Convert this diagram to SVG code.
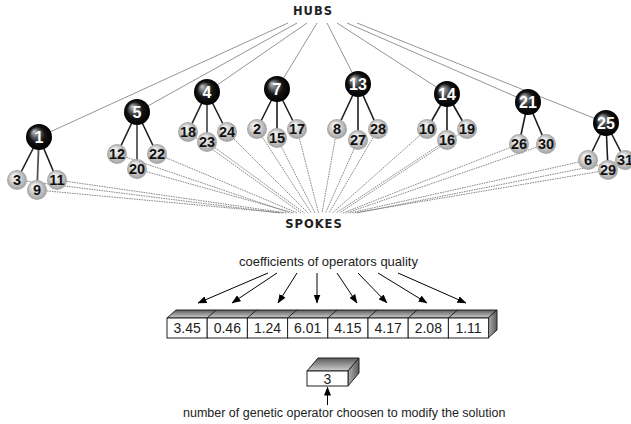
<svg xmlns="http://www.w3.org/2000/svg" width="631" height="424" viewBox="0 0 631 424">
<defs>
<radialGradient id="hubG" cx="50%" cy="50%" r="50%" fx="30%" fy="28%">
<stop offset="0" stop-color="#c8c8c8"/>
<stop offset="0.25" stop-color="#7a7a7a"/>
<stop offset="0.6" stop-color="#151515"/>
<stop offset="1" stop-color="#000"/>
</radialGradient>
<radialGradient id="spkG" cx="50%" cy="50%" r="50%" fx="35%" fy="28%">
<stop offset="0" stop-color="#ffffff"/>
<stop offset="0.5" stop-color="#d6d6d6"/>
<stop offset="1" stop-color="#a0a0a0"/>
</radialGradient>
<linearGradient id="topG" x1="0" y1="0" x2="0" y2="1">
<stop offset="0" stop-color="#5a5a5a"/>
<stop offset="1" stop-color="#d0d0d0"/>
</linearGradient>
<linearGradient id="sideG" x1="0" y1="0" x2="1" y2="0">
<stop offset="0" stop-color="#b0b0b0"/>
<stop offset="1" stop-color="#5a5a5a"/>
</linearGradient>
<marker id="arr" markerWidth="9" markerHeight="7" refX="8.5" refY="3.5" orient="auto" markerUnits="userSpaceOnUse">
<path d="M0,0 L9,3.5 L0,7 Z" fill="#000"/>
</marker>
<style>
.hl{stroke:#7a7a7a;stroke-width:0.8;fill:none}
.sl{stroke:#6a6a6a;stroke-width:0.8;stroke-dasharray:1.6 0.9;fill:none}
.tl{stroke:#1e1e1e;stroke-width:1.6;fill:none}
.tm{stroke:#555;stroke-width:1.8;fill:none}
.hub circle{fill:url(#hubG)}
.spk circle{fill:url(#spkG)}
.hub text{font-family:"Liberation Sans",Arial,sans-serif;font-weight:bold;font-size:16px;fill:#fff;text-anchor:middle}
.spk text{font-family:"Liberation Sans",Arial,sans-serif;font-weight:bold;font-size:14.5px;fill:#111;text-anchor:middle}
.title{font-family:"DejaVu Sans",sans-serif;font-weight:bold;font-size:11.5px;letter-spacing:1px;fill:#222;text-anchor:middle}
.lbl{font-family:"Liberation Sans",Arial,sans-serif;font-size:13px;fill:#222}
.num{font-family:"Liberation Sans",Arial,sans-serif;font-size:14px;fill:#222;text-anchor:middle}
.front{fill:#fff;stroke:#222;stroke-width:1}
.top{fill:url(#topG);stroke:#222;stroke-width:1;stroke-linejoin:round}
.side{fill:url(#sideG);stroke:#222;stroke-width:1;stroke-linejoin:round}
.ar{stroke:#000;stroke-width:1;fill:none;marker-end:url(#arr)}
</style>
</defs>
<rect width="631" height="424" fill="#fff"/>

<text class="title" x="313" y="15">HUBS</text>
<text class="title" x="314" y="228">SPOKES</text>

<g id="connectors">
<line class="hl" x1="288" y1="23" x2="39" y2="137"/>
<line class="hl" x1="297" y1="23" x2="137" y2="112"/>
<line class="hl" x1="307" y1="23" x2="207" y2="92"/>
<line class="hl" x1="317" y1="23" x2="277" y2="89"/>
<line class="hl" x1="327" y1="23" x2="358" y2="84"/>
<line class="hl" x1="337" y1="23" x2="447" y2="94"/>
<line class="hl" x1="347" y1="23" x2="528" y2="102"/>
<line class="hl" x1="357" y1="23" x2="606" y2="123"/>
<line class="sl" x1="17" y1="180" x2="280" y2="213"/>
<line class="sl" x1="37" y1="190" x2="283.5" y2="213"/>
<line class="sl" x1="57" y1="180" x2="287" y2="213"/>
<line class="sl" x1="117" y1="154" x2="290.5" y2="213"/>
<line class="sl" x1="137" y1="169" x2="294" y2="213"/>
<line class="sl" x1="157" y1="154" x2="297.5" y2="213"/>
<line class="sl" x1="188" y1="132" x2="301" y2="213"/>
<line class="sl" x1="207" y1="142" x2="304.5" y2="213"/>
<line class="sl" x1="227" y1="132" x2="308" y2="213"/>
<line class="sl" x1="257" y1="129" x2="311.5" y2="213"/>
<line class="sl" x1="277" y1="138" x2="315" y2="213"/>
<line class="sl" x1="297" y1="129" x2="318.5" y2="213"/>
<line class="sl" x1="337" y1="129" x2="322" y2="213"/>
<line class="sl" x1="358" y1="140" x2="325.5" y2="213"/>
<line class="sl" x1="378" y1="129" x2="329" y2="213"/>
<line class="sl" x1="427" y1="129" x2="332.5" y2="213"/>
<line class="sl" x1="447" y1="140" x2="336" y2="213"/>
<line class="sl" x1="467" y1="129" x2="339.5" y2="213"/>
<line class="sl" x1="519" y1="144" x2="343" y2="213"/>
<line class="sl" x1="546" y1="144" x2="346.5" y2="213"/>
<line class="sl" x1="588" y1="160" x2="350" y2="213"/>
<line class="sl" x1="608" y1="170" x2="353.5" y2="213"/>
<line class="sl" x1="625" y1="160" x2="357" y2="213"/>
<line class="tl" x1="39" y1="137" x2="17" y2="180"/>
<line class="tm" x1="39" y1="137" x2="37" y2="190"/>
<line class="tl" x1="39" y1="137" x2="57" y2="180"/>
<line class="tl" x1="137" y1="112" x2="117" y2="154"/>
<line class="tm" x1="137" y1="112" x2="137" y2="169"/>
<line class="tl" x1="137" y1="112" x2="157" y2="154"/>
<line class="tl" x1="207" y1="92" x2="188" y2="132"/>
<line class="tm" x1="207" y1="92" x2="207" y2="142"/>
<line class="tl" x1="207" y1="92" x2="227" y2="132"/>
<line class="tl" x1="277" y1="89" x2="257" y2="129"/>
<line class="tl" x1="277" y1="89" x2="277" y2="138"/>
<line class="tl" x1="277" y1="89" x2="297" y2="129"/>
<line class="tl" x1="358" y1="84" x2="337" y2="129"/>
<line class="tl" x1="358" y1="84" x2="358" y2="140"/>
<line class="tl" x1="358" y1="84" x2="378" y2="129"/>
<line class="tl" x1="447" y1="94" x2="427" y2="129"/>
<line class="tl" x1="447" y1="94" x2="447" y2="140"/>
<line class="tl" x1="447" y1="94" x2="467" y2="129"/>
<line class="tl" x1="528" y1="102" x2="519" y2="144"/>
<line class="tl" x1="528" y1="102" x2="546" y2="144"/>
<line class="tl" x1="606" y1="123" x2="588" y2="160"/>
<line class="tl" x1="606" y1="123" x2="608" y2="170"/>
<line class="tl" x1="606" y1="123" x2="625" y2="160"/>
<line class="ar" x1="268" y1="273" x2="198" y2="303"/>
<line class="ar" x1="277" y1="273" x2="232" y2="303"/>
<line class="ar" x1="297" y1="273" x2="278" y2="303"/>
<line class="ar" x1="317" y1="273" x2="317" y2="303"/>
<line class="ar" x1="337" y1="273" x2="357" y2="303"/>
<line class="ar" x1="358" y1="273" x2="387" y2="303"/>
<line class="ar" x1="378" y1="273" x2="427" y2="303"/>
<line class="ar" x1="398" y1="273" x2="466" y2="303"/>
<line class="ar" x1="327.5" y1="405" x2="327.5" y2="387"/>
</g>

<g id="hub1" class="hub"><circle cx="39" cy="137" r="13"/><text x="39" y="143">1</text></g>
<g id="hub5" class="hub"><circle cx="137" cy="112" r="13"/><text x="137" y="118">5</text></g>
<g id="hub4" class="hub"><circle cx="207" cy="92" r="13"/><text x="207" y="98">4</text></g>
<g id="hub7" class="hub"><circle cx="277" cy="89" r="13"/><text x="277" y="95">7</text></g>
<g id="hub13" class="hub"><circle cx="358" cy="84" r="13"/><text x="358" y="90">13</text></g>
<g id="hub14" class="hub"><circle cx="447" cy="94" r="13"/><text x="447" y="100">14</text></g>
<g id="hub21" class="hub"><circle cx="528" cy="102" r="13"/><text x="528" y="108">21</text></g>
<g id="hub25" class="hub"><circle cx="606" cy="123" r="13"/><text x="606" y="129">25</text></g>

<g id="spoke3" class="spk"><circle cx="17" cy="180" r="10"/><text x="17" y="185">3</text></g>
<g id="spoke11" class="spk"><circle cx="57" cy="180" r="10"/><text x="57" y="185">11</text></g>
<g id="spoke9" class="spk"><circle cx="37" cy="190" r="10"/><text x="37" y="195">9</text></g>
<g id="spoke12" class="spk"><circle cx="117" cy="154" r="10"/><text x="117" y="159">12</text></g>
<g id="spoke22" class="spk"><circle cx="157" cy="154" r="10"/><text x="157" y="159">22</text></g>
<g id="spoke20" class="spk"><circle cx="137" cy="169" r="10"/><text x="137" y="174">20</text></g>
<g id="spoke18" class="spk"><circle cx="188" cy="132" r="10"/><text x="188" y="137">18</text></g>
<g id="spoke24" class="spk"><circle cx="227" cy="132" r="10"/><text x="227" y="137">24</text></g>
<g id="spoke23" class="spk"><circle cx="207" cy="142" r="10"/><text x="207" y="147">23</text></g>
<g id="spoke2" class="spk"><circle cx="257" cy="129" r="10"/><text x="257" y="134">2</text></g>
<g id="spoke17" class="spk"><circle cx="297" cy="129" r="10"/><text x="297" y="134">17</text></g>
<g id="spoke15" class="spk"><circle cx="277" cy="138" r="10"/><text x="277" y="143">15</text></g>
<g id="spoke8" class="spk"><circle cx="337" cy="129" r="10"/><text x="337" y="134">8</text></g>
<g id="spoke28" class="spk"><circle cx="378" cy="129" r="10"/><text x="378" y="134">28</text></g>
<g id="spoke27" class="spk"><circle cx="358" cy="140" r="10"/><text x="358" y="145">27</text></g>
<g id="spoke10" class="spk"><circle cx="427" cy="129" r="10"/><text x="427" y="134">10</text></g>
<g id="spoke19" class="spk"><circle cx="467" cy="129" r="10"/><text x="467" y="134">19</text></g>
<g id="spoke16" class="spk"><circle cx="447" cy="140" r="10"/><text x="447" y="145">16</text></g>
<g id="spoke26" class="spk"><circle cx="519" cy="144" r="10"/><text x="519" y="149">26</text></g>
<g id="spoke30" class="spk"><circle cx="546" cy="144" r="10"/><text x="546" y="149">30</text></g>
<g id="spoke6" class="spk"><circle cx="588" cy="160" r="10"/><text x="588" y="165">6</text></g>
<g id="spoke31" class="spk"><circle cx="625" cy="160" r="10"/><text x="625" y="165">31</text></g>
<g id="spoke29" class="spk"><circle cx="608" cy="170" r="10"/><text x="608" y="175">29</text></g>

<text class="lbl" x="239" y="266">coefficients of operators quality</text>
<g id="coef-row">
<polygon class="top" points="167,318 176,310 497,310 488,318"/>
<polygon class="side" points="488,318 497,310 497,330 488,338"/>
<g stroke="#222" stroke-width="1">
<line x1="207.2" y1="318" x2="216.2" y2="310"/>
<line x1="247.4" y1="318" x2="256.4" y2="310"/>
<line x1="287.6" y1="318" x2="296.6" y2="310"/>
<line x1="327.8" y1="318" x2="336.8" y2="310"/>
<line x1="368" y1="318" x2="377" y2="310"/>
<line x1="408.2" y1="318" x2="417.2" y2="310"/>
<line x1="448.4" y1="318" x2="457.4" y2="310"/>
</g>
<g id="c1"><rect class="front" x="167" y="318" width="40.2" height="20"/><text class="num" x="187.1" y="333">3.45</text></g>
<g id="c2"><rect class="front" x="207.2" y="318" width="40.2" height="20"/><text class="num" x="227.3" y="333">0.46</text></g>
<g id="c3"><rect class="front" x="247.4" y="318" width="40.2" height="20"/><text class="num" x="267.5" y="333">1.24</text></g>
<g id="c4"><rect class="front" x="287.6" y="318" width="40.2" height="20"/><text class="num" x="307.7" y="333">6.01</text></g>
<g id="c5"><rect class="front" x="327.8" y="318" width="40.2" height="20"/><text class="num" x="347.9" y="333">4.15</text></g>
<g id="c6"><rect class="front" x="368" y="318" width="40.2" height="20"/><text class="num" x="388.1" y="333">4.17</text></g>
<g id="c7"><rect class="front" x="408.2" y="318" width="40.2" height="20"/><text class="num" x="428.3" y="333">2.08</text></g>
<g id="c8"><rect class="front" x="448.4" y="318" width="40.2" height="20"/><text class="num" x="468.5" y="333">1.11</text></g>
</g>

<g id="chosen">
<polygon class="top" points="307,371 318,358 359,358 348,371"/>
<polygon class="side" points="348,371 359,358 359,373 348,386"/>
<rect class="front" x="307" y="371" width="41" height="15"/>
<text class="num" x="327.5" y="384">3</text>
</g>
<text class="lbl" x="183" y="417" style="font-size:12.5px">number of genetic operator choosen to modify the solution</text>
</svg>
